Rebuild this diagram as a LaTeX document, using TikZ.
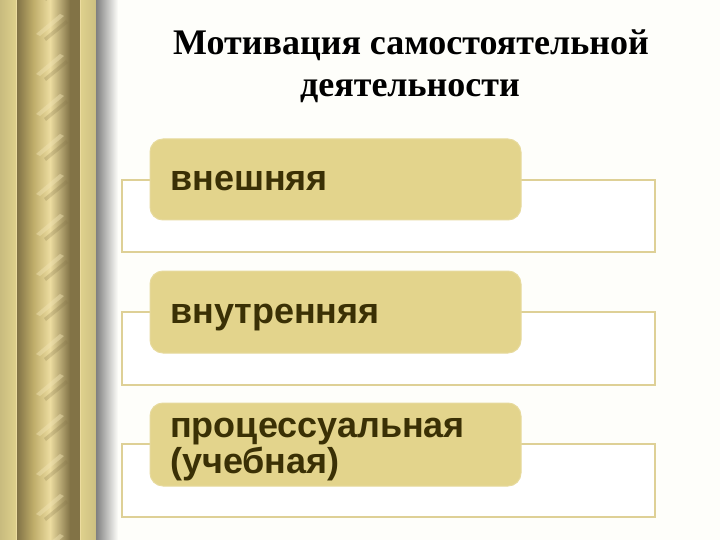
\documentclass[tikz,border=0pt]{standalone}
\usepackage{fontspec}
\setmainfont{Liberation Serif}
\newfontfamily\boxfont{Liberation Sans}
\definecolor{bg}{RGB}{254,254,250}
\definecolor{goldL}{RGB}{222,208,140}
\definecolor{goldM}{RGB}{190,172,105}
\definecolor{goldD}{RGB}{130,115,70}
\definecolor{ropeL}{RGB}{236,220,160}
\definecolor{boxfill}{RGB}{227,212,140}
\definecolor{outl}{RGB}{222,208,150}
\definecolor{txt}{RGB}{58,48,5}
\tikzset{
  outer/.style={draw=outl, line width=1.8pt, fill=white},
  tanbox/.style={fill=boxfill, draw=boxfill!85!white, line width=1pt, rounded corners=13pt},
  boxtext/.style={font=\boxfont\bfseries\fontsize{36}{36}\selectfont, text=txt, inner sep=0pt, anchor=base west},
  title/.style={font=\bfseries\fontsize{36}{42}\selectfont, text=black, inner sep=0pt, anchor=base}
}
\begin{document}
\begin{tikzpicture}[x=1pt,y=-1pt]
\useasboundingbox (0,0) rectangle (720,540);
\fill[bg] (0,0) rectangle (720,540);
% decorative left band
\shade[left color=goldL!90!black, right color=goldL] (0,0) rectangle (16,540);
\fill[ropeL] (16,0) rectangle (17,540);
\shade[left color=goldD, right color=goldM] (17,0) rectangle (33,540);
\shade[left color=goldM, right color=ropeL] (33,0) rectangle (50,540);
\shade[left color=ropeL, right color=goldD] (50,0) rectangle (70,540);
\fill[goldD] (70,0) rectangle (80,540);
\fill[ropeL] (80,0) rectangle (81,540);
\shade[left color=goldL, right color=goldL!92!black] (81,0) rectangle (96,540);
\shade[left color=black!50, right color=bg] (96,0) rectangle (118,540);
% rope streaks
\begin{scope}
\clip (30,0) rectangle (72,540);
\foreach \y in {-20,20,...,580} {
  \fill[ropeL!80!white, opacity=0.45] (36,\y+14) -- (60,\y-6) -- (64,\y-4) -- (40,\y+16) -- cycle;
  \fill[goldD, opacity=0.25] (44,\y+18) -- (66,\y) -- (68,\y+3) -- (46,\y+21) -- cycle;
}
\end{scope}
% title
\node[title] (t1) at (411,55) {Мотивация самостоятельной};
\node[title] (t2) at (410,97) {деятельности};
% boxes
\draw[outer] (122,180) rectangle (655,252);
\draw[tanbox] (150,139) rectangle (521,220);
\node[boxtext] (b1) at (170,191) {внешняя};
\draw[outer] (122,312) rectangle (655,385);
\draw[tanbox] (150,271) rectangle (521,353);
\node[boxtext] (b2) at (170,323) {внутренняя};
\draw[outer] (122,444) rectangle (655,517);
\draw[tanbox] (150,403) rectangle (521,486);
\node[boxtext] (b3) at (170,437) {процессуальная};
\node[boxtext] (b4) at (170,473) {(учебная)};
\end{tikzpicture}
\end{document}
